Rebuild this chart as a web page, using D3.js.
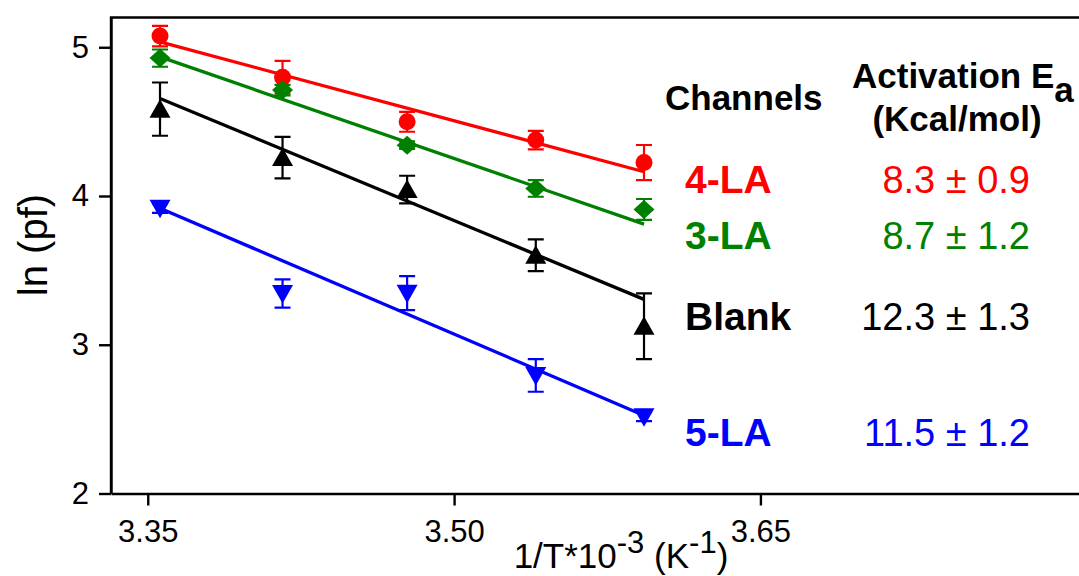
<!DOCTYPE html>
<html>
<head>
<meta charset="utf-8">
<script src="https://cdn.jsdelivr.net/npm/d3@7"></script>
<style>
  html, body { margin: 0; padding: 0; background: #fff; }
  svg { display: block; font-family: "Liberation Sans", Arial, sans-serif; }
</style>
</head>
<body>
<svg id="chart" width="1079" height="576"></svg>
<script>
// 1/T * 10^-3 (K^-1) for the five temperatures
var X = [3.356, 3.416, 3.477, 3.540, 3.593];

// ln(pf) per channel, with error bar half-heights
var LA4 = [5.075, 4.799, 4.499, 4.376, 4.225];
var LA4_ERR = [0.069, 0.11, 0.067, 0.062, 0.118];
var LA3 = [4.927, 4.712, 4.342, 4.051, 3.910];
var LA3_ERR = [0.058, 0.035, 0.025, 0.056, 0.07];
var BLANK = [4.584, 4.258, 4.043, 3.602, 3.124];
var BLANK_ERR = [0.179, 0.14, 0.093, 0.107, 0.221];
var LA5 = [3.917, 3.345, 3.347, 2.794, 2.516];
var LA5_ERR = [0.03, 0.095, 0.114, 0.11, 0.03];

// fitted lines: value at first and last X
var FIT_4LA = [5.036, 4.163];
var FIT_3LA = [4.935, 3.811];
var FIT_BLANK = [4.656, 3.305];
var FIT_5LA = [3.917, 2.525];

var CHANNELS = ["4-LA", "3-LA", "Blank", "5-LA"];
var EA = ["8.3 \u00b1 0.9", "8.7 \u00b1 1.2", "12.3 \u00b1 1.3", "11.5 \u00b1 1.2"];
var X_TICKS = [3.35, 3.50, 3.65];
var Y_TICKS = [2, 3, 4, 5];

(function () {
  "use strict";
  var series = [
    { name: CHANNELS[0], ea: EA[0], y: LA4, err: LA4_ERR, fit: FIT_4LA, color: "#ff0000", shape: "circle", row: 193 },
    { name: CHANNELS[1], ea: EA[1], y: LA3, err: LA3_ERR, fit: FIT_3LA, color: "#008000", shape: "diamond", row: 249 },
    { name: CHANNELS[2], ea: EA[2], y: BLANK, err: BLANK_ERR, fit: FIT_BLANK, color: "#000000", shape: "up", row: 330 },
    { name: CHANNELS[3], ea: EA[3], y: LA5, err: LA5_ERR, fit: FIT_5LA, color: "#0000ff", shape: "down", row: 446 }
  ];

  var svg = d3.select("#chart");
  var mL = 111, mR = 1079, mT = 17.5, mB = 493.5;

  var x = d3.scaleLinear().domain([3.332, 3.806]).range([mL, mR]);
  var y = d3.scaleLinear().domain([2, 5.2]).range([mB, mT]);

  // frame (right edge is off the picture)
  svg.append("path")
    .attr("d", "M" + mR + "," + mT + "H" + mL + "V" + mB)
    .attr("fill", "none").attr("stroke", "#000").attr("stroke-width", 2.4);

  var xAxis = svg.append("g").attr("transform", "translate(0," + mB + ")")
    .call(d3.axisBottom(x).tickValues(X_TICKS).tickFormat(d3.format(".2f"))
      .tickSize(12).tickSizeOuter(0).tickPadding(14));
  var yAxis = svg.append("g").attr("transform", "translate(" + mL + ",0)")
    .call(d3.axisLeft(y).tickValues(Y_TICKS).tickFormat(d3.format("d"))
      .tickSize(12).tickSizeOuter(0).tickPadding(10));
  [xAxis, yAxis].forEach(function (g) {
    g.attr("font-size", 31).attr("font-family", "Liberation Sans, Arial, sans-serif");
    g.select(".domain").attr("stroke-width", 2.4);
    g.selectAll(".tick line").attr("stroke-width", 2.4);
    g.selectAll(".tick text").attr("fill", "#000");
  });

  // axis titles
  svg.append("text")
    .attr("transform", "translate(47,245) rotate(-90)")
    .attr("text-anchor", "middle").attr("font-size", 40).text("ln (pf)");

  var xl = svg.append("text").attr("x", 621).attr("y", 568)
    .attr("text-anchor", "middle").attr("font-size", 35);
  xl.append("tspan").text("1/T*10");
  xl.append("tspan").attr("dy", -15).attr("font-size", 31).text("-3");
  xl.append("tspan").attr("dy", 15).text(" (K");
  xl.append("tspan").attr("dy", -15).attr("font-size", 31).text("-1");
  xl.append("tspan").attr("dy", 15).text(")");

  // fit lines
  series.forEach(function (s) {
    svg.append("line")
      .attr("x1", x(X[0])).attr("y1", y(s.fit[0]))
      .attr("x2", x(X[X.length - 1])).attr("y2", y(s.fit[1]))
      .attr("stroke", s.color).attr("stroke-width", 3.3);
  });

  // error bars
  series.forEach(function (s) {
    var g = svg.append("g").attr("stroke", s.color).attr("stroke-width", 2.2);
    X.forEach(function (xv, i) {
      var cx = x(xv), y0 = y(s.y[i] - s.err[i]), y1 = y(s.y[i] + s.err[i]);
      g.append("path").attr("fill", "none")
        .attr("d", "M" + cx + "," + y0 + "V" + y1 +
          "M" + (cx - 8) + "," + y0 + "H" + (cx + 8) +
          "M" + (cx - 8) + "," + y1 + "H" + (cx + 8));
    });
  });

  // markers
  function marker(shape) {
    if (shape === "circle") return "M-8.5,0A8.5,8.5 0 1,0 8.5,0A8.5,8.5 0 1,0 -8.5,0Z";
    if (shape === "diamond") return "M0,-9.5L10.5,0L0,9.5L-10.5,0Z";
    if (shape === "up") return "M0,-10L10.5,8.5L-10.5,8.5Z";
    return "M0,10L10.5,-8.5L-10.5,-8.5Z";
  }
  series.forEach(function (s) {
    svg.append("g").selectAll("path").data(X).join("path")
      .attr("transform", function (d, i) { return "translate(" + x(d) + "," + y(s.y[i]) + ")"; })
      .attr("d", marker(s.shape)).attr("fill", s.color);
  });

  // legend table
  svg.append("text").attr("x", 665).attr("y", 110)
    .attr("font-size", 35).attr("font-weight", "bold").text("Channels");
  var ea = svg.append("text").attr("x", 852).attr("y", 88)
    .attr("font-size", 35).attr("font-weight", "bold");
  ea.append("tspan").text("Activation E");
  ea.append("tspan").attr("dy", 14).text("a");
  svg.append("text").attr("x", 957).attr("y", 131).attr("text-anchor", "middle")
    .attr("font-size", 35).attr("font-weight", "bold").text("(Kcal/mol)");

  series.forEach(function (s) {
    svg.append("text").attr("x", 685).attr("y", s.row)
      .attr("font-size", 39).attr("font-weight", "bold").attr("fill", s.color).text(s.name);
    svg.append("text").attr("x", 1030).attr("y", s.row).attr("text-anchor", "end")
      .attr("font-size", 38).attr("fill", s.color).text(s.ea);
  });
})();
</script>
</body>
</html>
